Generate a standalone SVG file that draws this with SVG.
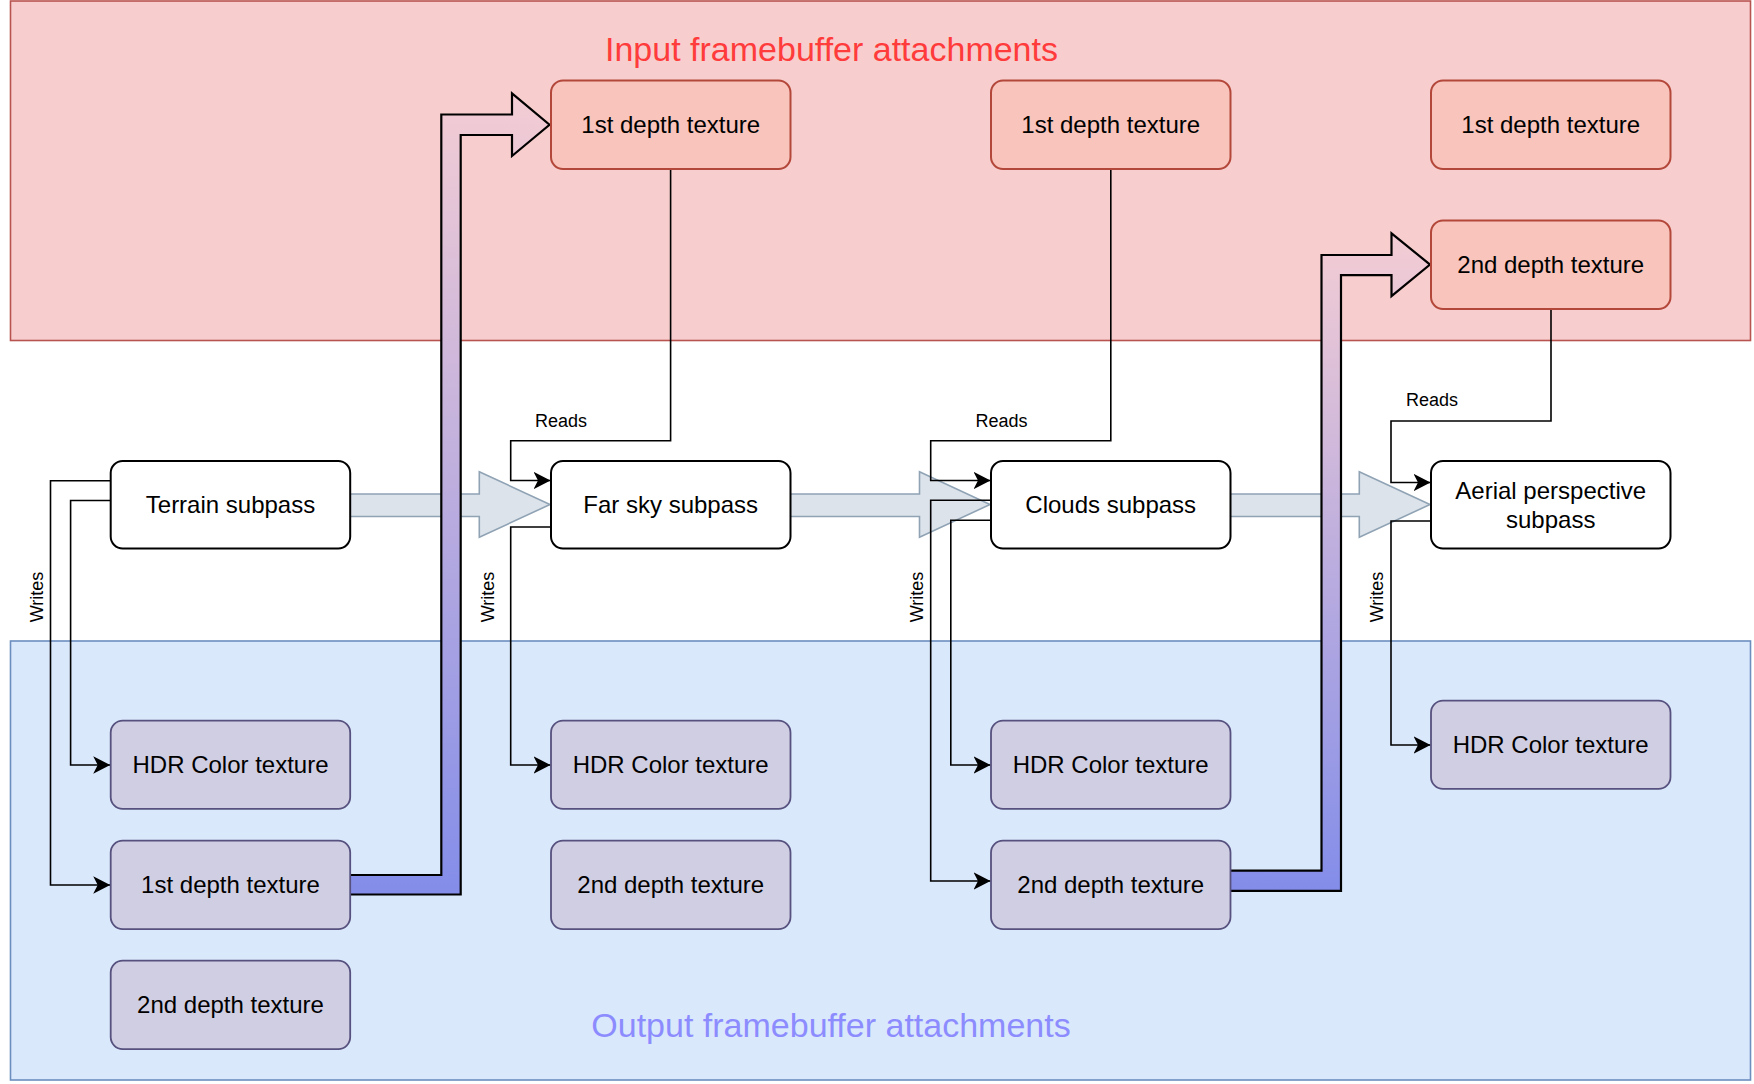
<svg xmlns="http://www.w3.org/2000/svg" width="1754" height="1084" viewBox="0 0 1754 1084">
<defs>
<style>
text{font-family:"Liberation Sans",Arial,sans-serif;}
.lbl{font-size:24px;fill:#000;text-anchor:middle;}
.small{font-size:18px;fill:#000;}
.sub{fill:#fff;stroke:#000;stroke-width:2;}
.inp{fill:#f9c4bb;stroke:#b3473a;stroke-width:2;}
.out{fill:#d0cee2;stroke:#56517e;stroke-width:1.8;}
.conn{fill:none;stroke:#000;stroke-width:1.6;}
.block{fill:#dce3ea;stroke:#8fa3b5;stroke-width:1.6;}
</style>
<marker id="arr" markerUnits="userSpaceOnUse" viewBox="0 0 18 18" refX="17" refY="9" markerWidth="18" markerHeight="18" orient="auto">
<path d="M0,0.3 L17,9 L0,17.7 L4.5,9 Z" fill="#000"/>
</marker>
<linearGradient id="g1" gradientUnits="userSpaceOnUse" x1="0" y1="93" x2="0" y2="895">
<stop offset="0" stop-color="#f4cdd4"/>
<stop offset="1" stop-color="#838de9"/>
</linearGradient>
<linearGradient id="g2" gradientUnits="userSpaceOnUse" x1="0" y1="233" x2="0" y2="891">
<stop offset="0" stop-color="#f4cdd4"/>
<stop offset="1" stop-color="#838de9"/>
</linearGradient>
</defs>

<g id="input-container">
<rect x="10.5" y="1" width="1740" height="339.5" fill="#f7cecd" stroke="#b85450" stroke-width="1.6"/>
<text x="831.5" y="60.5" font-size="34" fill="#ff3b3b" text-anchor="middle">Input framebuffer attachments</text>
</g>
<g id="output-container">
<rect x="10.5" y="641" width="1740" height="439" fill="#dae8fc" stroke="#6c8ebf" stroke-width="1.6"/>
<text x="831" y="1037" font-size="34" fill="#8c8cff" text-anchor="middle">Output framebuffer attachments</text>
</g>

<g id="connectors">
<path class="block" d="M350.7,494 H479.3 V471.7 L550,504.5 L479.3,537.3 V516.5 H350.7"/>
<path class="block" d="M790.3,494 H919.5 V471.7 L990,504.5 L919.5,537.3 V516.5 H790.3"/>
<path class="block" d="M1230.5,494 H1359.3 V471.7 L1430,504.5 L1359.3,537.3 V516.5 H1230.5"/>

<path class="conn" marker-end="url(#arr)" d="M670.6,169 V440.7 H510.7 V480.5 H550.5"/>
<path class="conn" marker-end="url(#arr)" d="M1110.8,169 V440.7 H930.7 V480.5 H990.5"/>
<path class="conn" marker-end="url(#arr)" d="M1551,309 V421 H1391 V482.5 H1430.5"/>

<path class="conn" marker-end="url(#arr)" d="M110.7,480.7 H50.5 V885 H110.2"/>
<path class="conn" marker-end="url(#arr)" d="M110.7,500.5 H70.6 V765 H110.2"/>
<path class="conn" marker-end="url(#arr)" d="M551,527 H510.7 V765 H550.5"/>
<path class="conn" marker-end="url(#arr)" d="M991,500.2 H930.7 V881 H990.5"/>
<path class="conn" marker-end="url(#arr)" d="M991,520.2 H950.8 V765 H990.5"/>
<path class="conn" marker-end="url(#arr)" d="M1431,521 H1391 V745 H1430.5"/>

<path fill="url(#g1)" stroke="#000" stroke-width="2.2" stroke-linejoin="miter" d="M350.7,875 H441.3 V114.5 H512 V93.3 L549.5,124.75 L512,156 V135 H460.7 V894.5 H350.7"/>
<path fill="url(#g2)" stroke="#000" stroke-width="2.2" stroke-linejoin="miter" d="M1230.5,870.7 H1321.5 V255 H1391.5 V233.3 L1430,264.6 L1391.5,296.2 V275.1 H1341 V890.8 H1230.5"/>

<text class="small" x="535" y="427">Reads</text>
<text class="small" x="975.4" y="427">Reads</text>
<text class="small" x="1406" y="406">Reads</text>
<text class="small" text-anchor="middle" transform="translate(42.7,597) rotate(-90)">Writes</text>
<text class="small" text-anchor="middle" transform="translate(493.8,597) rotate(-90)">Writes</text>
<text class="small" text-anchor="middle" transform="translate(923.4,597) rotate(-90)">Writes</text>
<text class="small" text-anchor="middle" transform="translate(1383.2,597) rotate(-90)">Writes</text>
</g>

<g id="in-depth1-a"><rect class="inp" x="551" y="80.5" width="239.5" height="88.5" rx="12"/><text class="lbl" x="670.7" y="133">1st depth texture</text></g>
<g id="in-depth1-b"><rect class="inp" x="991" y="80.5" width="239.5" height="88.5" rx="12"/><text class="lbl" x="1110.7" y="133">1st depth texture</text></g>
<g id="in-depth1-c"><rect class="inp" x="1431" y="80.5" width="239.5" height="88.5" rx="12"/><text class="lbl" x="1550.7" y="133">1st depth texture</text></g>
<g id="in-depth2-c"><rect class="inp" x="1431" y="220.5" width="239.5" height="88.5" rx="12"/><text class="lbl" x="1550.7" y="273">2nd depth texture</text></g>

<g id="terrain"><rect class="sub" x="110.7" y="461" width="239.5" height="87.5" rx="12"/><text class="lbl" x="230.5" y="513">Terrain subpass</text></g>
<g id="farsky"><rect class="sub" x="551" y="461" width="239.5" height="87.5" rx="12"/><text class="lbl" x="670.7" y="513">Far sky subpass</text></g>
<g id="clouds"><rect class="sub" x="991" y="461" width="239.5" height="87.5" rx="12"/><text class="lbl" x="1110.7" y="513">Clouds subpass</text></g>
<g id="aerial"><rect class="sub" x="1431" y="461" width="239.5" height="87.5" rx="12"/><text class="lbl" x="1550.7" y="498.5">Aerial perspective</text><text class="lbl" x="1550.7" y="527.5">subpass</text></g>

<g id="out-hdr-1"><rect class="out" x="110.7" y="720.7" width="239.5" height="88.2" rx="12"/><text class="lbl" x="230.5" y="773">HDR Color texture</text></g>
<g id="out-depth1-1"><rect class="out" x="110.7" y="840.6" width="239.5" height="88.5" rx="12"/><text class="lbl" x="230.5" y="893">1st depth texture</text></g>
<g id="out-depth2-1"><rect class="out" x="110.7" y="960.6" width="239.5" height="88.5" rx="12"/><text class="lbl" x="230.5" y="1013">2nd depth texture</text></g>
<g id="out-hdr-2"><rect class="out" x="551" y="720.7" width="239.5" height="88.2" rx="12"/><text class="lbl" x="670.7" y="773">HDR Color texture</text></g>
<g id="out-depth2-2"><rect class="out" x="551" y="840.6" width="239.5" height="88.5" rx="12"/><text class="lbl" x="670.7" y="893">2nd depth texture</text></g>
<g id="out-hdr-3"><rect class="out" x="991" y="720.7" width="239.5" height="88.2" rx="12"/><text class="lbl" x="1110.7" y="773">HDR Color texture</text></g>
<g id="out-depth2-3"><rect class="out" x="991" y="840.6" width="239.5" height="88.5" rx="12"/><text class="lbl" x="1110.7" y="893">2nd depth texture</text></g>
<g id="out-hdr-4"><rect class="out" x="1431" y="700.7" width="239.5" height="88.2" rx="12"/><text class="lbl" x="1550.7" y="753">HDR Color texture</text></g>
</svg>
